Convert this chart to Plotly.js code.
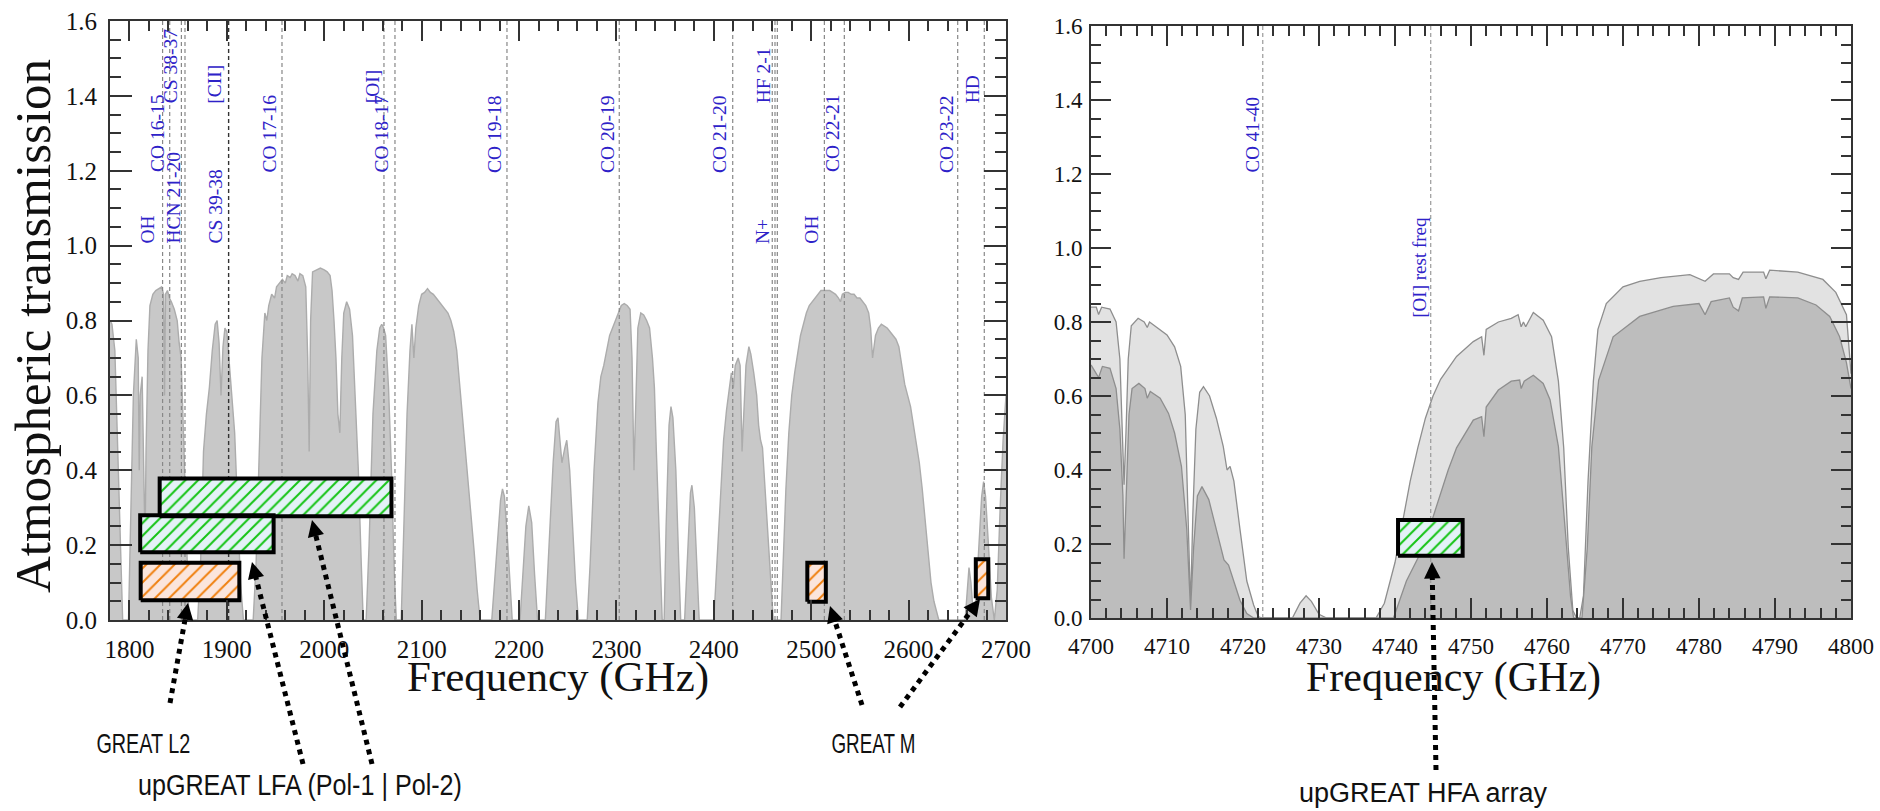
<!DOCTYPE html>
<html><head><meta charset="utf-8">
<script src="https://cdn.plot.ly/plotly-3.0.1.min.js"></script>
<style>html,body{margin:0;padding:0;background:#fff;}#chart{width:1880px;height:811px;}</style>
</head><body><div id="chart"></div>
<script>
// ---------- Left panel: atmospheric transmission 1780-2700 GHz ----------
const freqL = [1780,1782,1785,1788,1791,1793,1799,1801,1804,1807,1809,1810,1811,1813,1815,1816,1817,1819,1821,1824,1827,1830,1833,1835,1836,1837,1839,1841,1843,1846,1849,1851,1853,1856,1858,1860,1861,
1870,1873,1876,1879,1882,1885,1888,1890,1892,1894,1896,1898,1900,1902,1905,1908,1911,1914,1917,
1927,1930,1933,1936,1939,1941,1943,1946,1949,1951,1954,1957,1960,1962,1965,1967,1970,1973,1975,1978,1981,1983,1984.5,1986,1988,1992,1996,2000,2003,2006,2008,2010,2012,2014,2016,2018,2020,2023,2026,2029,2032,2035,2038,2040,
2043,2046,2050,2054,2057,2059,2061,2063,2066,2069,2072,2074,
2079,2082,2085,2088,2090,2092,2094,2097,2100,2103,2106,2109,2112,2115,2118,2121,2124,2127,2130,2133,2136,2139,2142,2145,2148,2151,2154,2157,2160,
2172,2175,2178,2181,2183,2185,2188,2191,2193,
2201,2204,2207,2210,2213,2216,2219,
2227,2231,2235,2238,2240,2242,2244,2247,2249,2252,2255,2258,2261,
2270,2273,2277,2281,2284,2287,2290,2293,2296,2299,2302,2305,2308,2311,2314,2316,2318,2320,2322,2325,2328,2331,2334,2337,2339,2341,2344,2347,
2349,2351,2354,2356,2358,2361,2364,2366,
2370,2373,2376,2377.5,2380,2383,2385,
2400,2403,2407,2410,2413,2416,2418,2420,2422,2425,2427,2429,2431,2433,2436,2438,2441,2444,2446,2448,2450,2452,2455,2458,2461,
2469,2471,2474,2477,2480,2483,2486,2489,2492,2495,2498,2501,2504,2507,2510,2513,2516,2519,2522,2525,2528,2530,2532,2535,2538,2541,2544,2547,2550,2553,2556,2559,2561,2563,2566,2569,2572,2575,2578,2581,2584,2587,2590,2593,2596,2599,2602,2605,2608,2611,2614,2617,2620,2623,2626,2629,2631,
2658,2660,2662,2664,2666,2669,2672,2675,2677,2679,2682,2685,2688,2691,2694,2697,2700];
const transL = [0.80,0.79,0.72,0.45,0.15,0.0,0.0,0.25,0.60,0.75,0.70,0.40,0.60,0.65,0.40,0.20,0.45,0.72,0.84,0.87,0.88,0.885,0.89,0.87,0.60,0.87,0.88,0.86,0.85,0.83,0.80,0.74,0.70,0.45,0.25,0.08,0.0,
0.0,0.15,0.45,0.55,0.62,0.72,0.79,0.80,0.74,0.60,0.73,0.78,0.77,0.70,0.62,0.50,0.30,0.10,0.0,
0.0,0.15,0.45,0.70,0.82,0.80,0.84,0.87,0.86,0.89,0.90,0.91,0.90,0.92,0.915,0.925,0.92,0.905,0.925,0.92,0.89,0.70,0.45,0.80,0.93,0.935,0.94,0.935,0.93,0.92,0.88,0.80,0.70,0.55,0.50,0.70,0.82,0.85,0.83,0.76,0.60,0.40,0.15,0.0,
0.0,0.20,0.55,0.72,0.78,0.79,0.78,0.76,0.62,0.40,0.12,0.0,
0.0,0.25,0.55,0.72,0.79,0.70,0.78,0.84,0.87,0.875,0.885,0.875,0.87,0.86,0.85,0.84,0.83,0.82,0.80,0.77,0.72,0.63,0.55,0.46,0.38,0.28,0.18,0.08,0.0,
0.0,0.10,0.22,0.32,0.35,0.33,0.22,0.08,0.0,
0.0,0.12,0.25,0.305,0.26,0.12,0.0,
0.0,0.20,0.42,0.53,0.54,0.48,0.42,0.46,0.48,0.40,0.25,0.10,0.0,
0.0,0.15,0.40,0.58,0.65,0.68,0.72,0.76,0.78,0.80,0.82,0.84,0.845,0.84,0.83,0.70,0.40,0.60,0.78,0.82,0.815,0.80,0.78,0.70,0.62,0.45,0.20,0.0,
0.0,0.25,0.52,0.57,0.54,0.40,0.15,0.0,
0.0,0.18,0.34,0.36,0.30,0.12,0.0,
0.0,0.15,0.35,0.48,0.56,0.62,0.66,0.62,0.68,0.70,0.68,0.45,0.55,0.68,0.73,0.71,0.66,0.60,0.52,0.48,0.46,0.38,0.25,0.12,0.0,
0.0,0.15,0.35,0.50,0.60,0.66,0.71,0.76,0.79,0.82,0.84,0.85,0.86,0.87,0.88,0.88,0.88,0.88,0.875,0.87,0.86,0.85,0.87,0.875,0.875,0.87,0.87,0.86,0.86,0.85,0.84,0.82,0.78,0.70,0.76,0.78,0.79,0.785,0.78,0.77,0.76,0.75,0.73,0.68,0.63,0.60,0.57,0.52,0.47,0.42,0.35,0.27,0.18,0.10,0.05,0.02,0.0,
0.0,0.08,0.14,0.10,0.03,0.05,0.20,0.33,0.37,0.33,0.20,0.06,0.0,0.08,0.30,0.48,0.60];

// spectral lines (GHz) and their labels
const linesL = [1834,1841.3,1853.3,1857,1956.6,2061.3,2072.6,2187.6,2302.9,2419.4,2460,2462.8,2465.2,2513.5,2534,2650.4,2677.7];
const linesCII = [1901.8];
const labelsL = ['OH','CO 16-15','HCN 21-20','CS 38-37','[CII]','CS 39-38','CO 17-16','[OI]','CO 18-17','CO 19-18','CO 20-19','CO 21-20','HF 2-1','N+','OH','CO 22-21','CO 23-22','HD'];
const labelFreqL = [1819,1829.3,1845.7,1841.6,1887.8,1888.8,1943.3,2049,2058.3,2175.3,2291.3,2406.3,2450.5,2449.4,2500.8,2522.4,2639.4,2665.1];
const labelBaseL = [1.0,1.19,1.0,1.375,1.375,1.0,1.19,1.375,1.19,1.19,1.19,1.19,1.375,1.0,1.0,1.19,1.19,1.375];

// receiver bands (GHz, transmission-axis extent of the boxes)
const lfaStart = [1831,1811], lfaEnd = [2069,1948], lfaLow = [0.277,0.181], lfaHigh = [0.378,0.28];
const greatStart = [1811.5,2496,2669], greatEnd = [1912.8,2515,2681.8], greatLow = [0.053,0.049,0.058], greatHigh = [0.153,0.153,0.162];

// ---------- Right panel: 4700-4800 GHz ----------
const freqHi = [4700,4700.7,4701.0,4701.4,4702.5,4703.3,4703.8,4704.1,4704.35,4704.6,4704.9,4705.3,4706.2,4707.0,4707.4,4707.7,4709.0,4710.0,4711.0,4711.8,4712.4,4712.8,4713.1,4713.4,4713.8,4714.3,4714.8,4715.6,4716.5,4717.4,4717.9,4718.3,4718.8,4719.6,4720.5,4721.4,4722.0,4722.5,
4726.5,4727.5,4728.3,4729.0,4730.0,4731.0,
4737.5,4738.6,4740,4741,4742,4743,4744,4745,4746,4748.1,4750.3,4751.4,4751.7,4752.0,4753.6,4755.3,4756.2,4756.6,4756.9,4757.2,4758.2,4759.5,4760.6,4761.5,4762.2,4762.8,4763.4,4763.9,
4764.3,4764.8,4765.4,4766.1,4766.7,4767.8,4768.7,4770,4772.2,4775,4778.8,4780.8,4781.9,4784.0,4784.5,4785.2,4785.8,4788.5,4788.8,4789.3,4793,4796.3,4798,4799.4,4800];
const transHi = [0.84,0.84,0.82,0.84,0.835,0.80,0.70,0.50,0.36,0.50,0.70,0.79,0.81,0.80,0.785,0.80,0.78,0.765,0.733,0.68,0.55,0.28,0.03,0.28,0.51,0.61,0.625,0.60,0.54,0.464,0.40,0.41,0.37,0.24,0.10,0.035,0.004,0.0,
0.0,0.04,0.06,0.045,0.01,0.0,
0.0,0.04,0.15,0.26,0.37,0.46,0.54,0.60,0.645,0.707,0.747,0.76,0.71,0.78,0.80,0.81,0.82,0.787,0.80,0.787,0.826,0.805,0.76,0.64,0.46,0.19,0.02,0.0,
0.0,0.06,0.37,0.64,0.78,0.85,0.868,0.895,0.91,0.92,0.928,0.91,0.93,0.93,0.92,0.915,0.935,0.935,0.917,0.94,0.935,0.915,0.88,0.82,0.66];
const freqLo = [4700,4701.0,4701.5,4702.5,4703.3,4703.8,4704.2,4704.35,4704.7,4705.0,4705.4,4706.3,4707.1,4707.4,4707.8,4709.1,4710.2,4711.0,4711.9,4712.6,4713.1,4713.5,4714.0,4714.6,4715.5,4716.6,4717.5,4718.1,4718.8,4719.6,4720.5,4721.4,
4739.8,4741.5,4743.7,4744.8,4745.9,4747,4748.1,4750.3,4751.4,4751.7,4752.0,4753.6,4755.3,4756.4,4756.6,4757.0,4758.2,4759.5,4760.4,4761.5,4762.4,4763.1,4763.5,
4764.6,4765.3,4765.9,4766.8,4768.7,4772.2,4776.6,4780,4780.8,4781.6,4784,4784.5,4785.2,4785.7,4788.5,4788.8,4789.3,4793,4795.4,4797.2,4798.5,4799.4,4800];
const transLo = [0.684,0.65,0.68,0.675,0.62,0.51,0.33,0.16,0.37,0.55,0.62,0.634,0.62,0.594,0.612,0.594,0.553,0.50,0.41,0.24,0.022,0.19,0.33,0.355,0.32,0.23,0.157,0.143,0.10,0.048,0.012,0.0,
0.0,0.10,0.19,0.26,0.33,0.40,0.46,0.535,0.544,0.49,0.57,0.616,0.64,0.643,0.62,0.64,0.656,0.634,0.59,0.463,0.238,0.058,0.0,
0.0,0.19,0.463,0.643,0.76,0.815,0.842,0.85,0.82,0.855,0.865,0.84,0.83,0.865,0.868,0.837,0.868,0.865,0.846,0.815,0.76,0.69,0.62];
const linesR = [4722.6,4744.7];
const labelsR = ['CO 41-40','[OI] rest freq'];
const labelFreqR = [4721.3,4743.3];
const labelBaseR = [1.2,0.805];
const hfaStart = [4740.4], hfaEnd = [4748.9], hfaLow = [0.168], hfaHigh = [0.265];

// ---------- helpers (layout only) ----------
const W = 1880, H = 811;
const px = v => v / W;
const py = v => 1 - v / H;
const vlines = (arr, y0, y1) => ({x: arr.flatMap(f => [f, f, null]), y: arr.flatMap(() => [y0, y1, null])});
const boxTrace = (start, end, low, high, xa, ya, bg, fg, size, sol) => ({
  type: 'scatter', mode: 'lines', xaxis: xa, yaxis: ya, fill: 'toself', fillcolor: bg,
  x: start.flatMap((s, i) => [s, end[i], end[i], s, s, null]),
  y: low.flatMap((l, i) => [l, l, high[i], high[i], l, null]),
  line: {color: '#000', width: 4},
  fillpattern: {shape: '/', fgcolor: fg, bgcolor: bg, size: size, solidity: sol},
  hoverinfo: 'skip', showlegend: false
});

const dashL = vlines(linesL, 0, 1.6), dashC = vlines(linesCII, 0, 1.6), dashR = vlines(linesR, 0, 1.6);
const traces = [
  {x: freqL, y: transL, xaxis: 'x', yaxis: 'y', mode: 'lines', fill: 'tozeroy', fillcolor: '#c8c8c8', line: {color: '#acacac', width: 1.4}, hoverinfo: 'skip'},
  {x: dashL.x, y: dashL.y, xaxis: 'x', yaxis: 'y', mode: 'lines', line: {color: '#888', width: 1.2, dash: '4px,3px'}, hoverinfo: 'skip'},
  {x: dashC.x, y: dashC.y, xaxis: 'x', yaxis: 'y', mode: 'lines', line: {color: '#333', width: 1.4, dash: '4px,3px'}, hoverinfo: 'skip'},
  {x: freqHi, y: transHi, xaxis: 'x2', yaxis: 'y2', mode: 'lines', fill: 'tozeroy', fillcolor: '#e2e2e2', line: {color: '#8e8e8e', width: 1.3}, hoverinfo: 'skip'},
  {x: freqLo, y: transLo, xaxis: 'x2', yaxis: 'y2', mode: 'lines', fill: 'tozeroy', fillcolor: '#bdbdbd', line: {color: '#8e8e8e', width: 1.3}, hoverinfo: 'skip'},
  {x: dashR.x, y: dashR.y, xaxis: 'x2', yaxis: 'y2', mode: 'lines', line: {color: '#9a9a9a', width: 1.2, dash: '4px,3px'}, hoverinfo: 'skip'},
  boxTrace(lfaStart, lfaEnd, lfaLow, lfaHigh, 'x', 'y', '#e4f2f7', '#16c416', 9, 0.22),
  boxTrace(greatStart, greatEnd, greatLow, greatHigh, 'x', 'y', '#fbe5dc', '#f0800f', 10, 0.2),
  boxTrace(hfaStart, hfaEnd, hfaLow, hfaHigh, 'x2', 'y2', '#e4f2f7', '#16c416', 9, 0.22)
];

const serif = 'Liberation Serif, Times New Roman, serif';
const axisBase = {
  showline: true, linecolor: '#333', linewidth: 2, mirror: 'ticks', ticks: 'inside', tickcolor: '#333', tickwidth: 2,
  showgrid: false, zeroline: false, fixedrange: true
};
const xL = Object.assign({}, axisBase, {domain: [px(110), px(1006)], range: [1780, 2700], anchor: 'y', tick0: 1800, dtick: 100, ticklen: 20, tickformat: 'd',
  minor: {ticks: 'inside', ticklen: 10, tickwidth: 2, tickcolor: '#333', tick0: 1780, dtick: 20}, tickfont: {family: serif, size: 25, color: '#111'}, ticklabelstandoff: 6});
const yL = Object.assign({}, axisBase, {domain: [py(620), py(21)], range: [0, 1.6], anchor: 'x', dtick: 0.2, tick0: 0, ticklen: 22, tickformat: '.1f',
  minor: {ticks: 'inside', ticklen: 11, tickwidth: 2, tickcolor: '#333', tick0: 0, dtick: 0.05}, tickfont: {family: serif, size: 25, color: '#111'}, ticklabelstandoff: 6});
const xR = Object.assign({}, axisBase, {domain: [px(1091), px(1851)], range: [4700, 4800], anchor: 'y2', tick0: 4700, dtick: 10, ticklen: 20, tickformat: 'd',
  minor: {ticks: 'inside', ticklen: 10, tickwidth: 2, tickcolor: '#333', tick0: 4700, dtick: 2}, tickfont: {family: serif, size: 23, color: '#111'}, ticklabelstandoff: 6});
const yR = Object.assign({}, axisBase, {domain: [py(618), py(26)], range: [0, 1.6], anchor: 'x2', dtick: 0.2, tick0: 0, ticklen: 20, tickformat: '.1f',
  minor: {ticks: 'inside', ticklen: 10, tickwidth: 2, tickcolor: '#333', tick0: 0, dtick: 0.05}, tickfont: {family: serif, size: 23, color: '#111'}, ticklabelstandoff: 2});

const blue = '#2e22c8';
const annotations = [];
labelsL.forEach((t, i) => annotations.push({xref: 'x', yref: 'y', x: labelFreqL[i], y: labelBaseL[i], text: t, showarrow: false, textangle: -90,
  xanchor: 'center', yanchor: 'bottom', font: {family: serif, size: 19.5, color: blue}}));
labelsR.forEach((t, i) => annotations.push({xref: 'x2', yref: 'y2', x: labelFreqR[i], y: labelBaseR[i], text: t, showarrow: false, textangle: -90,
  xanchor: 'center', yanchor: 'bottom', font: {family: serif, size: 19, color: blue}}));
// axis titles
annotations.push({xref: 'paper', yref: 'paper', x: px(33), y: py(326), text: 'Atmospheric transmission', textangle: -90, showarrow: false,
  xanchor: 'center', yanchor: 'middle', font: {family: serif, size: 51, color: '#111'}});
annotations.push({xref: 'paper', yref: 'paper', x: px(558), y: py(677), text: 'Frequency (GHz)', showarrow: false,
  xanchor: 'center', yanchor: 'middle', font: {family: serif, size: 43, color: '#111'}});
annotations.push({xref: 'paper', yref: 'paper', x: px(1453), y: py(677), text: 'Frequency (GHz)', showarrow: false,
  xanchor: 'center', yanchor: 'middle', font: {family: serif, size: 42, color: '#111'}});
// instrument labels: [text, centreX, centreY, font, size, targetWidth]
const sans = 'Liberation Sans, Arial, sans-serif';
const instLabels = [
  ['GREAT L2', 143, 743, sans, 28, 94],
  ['GREAT M', 873, 743, sans, 28, 84],
  ['upGREAT LFA (Pol-1 | Pol-2)', 300, 785, sans, 29, 324],
  ['upGREAT HFA array', 1423, 793, sans, 27, 248]
];
instLabels.forEach(l => annotations.push({xref: 'paper', yref: 'paper', x: px(l[1]), y: py(l[2]), text: l[0], showarrow: false,
  xanchor: 'center', yanchor: 'middle', font: {family: l[3], size: l[4], color: '#111'}}));

// dotted pointer arrows: [tailX, tailY, tipX, tipY] in page pixels
const pointers = [[170,703,188,603],[303,764,252,562],[372,764,312,520],[862,705,830,606],[900,707,980,599],[1436,770,1432,562]];
const shapes = [];
pointers.forEach(p => {
  const dx = p[0] - p[2], dy = p[1] - p[3], len = Math.hypot(dx, dy);
  const sx = p[2] + dx / len * 10, sy = p[3] + dy / len * 10;
  shapes.push({type: 'line', xref: 'paper', yref: 'paper', x0: px(p[0]), y0: py(p[1]), x1: px(sx), y1: py(sy),
    line: {color: '#000', width: 5, dash: 'dot'}});
  annotations.push({xref: 'paper', yref: 'paper', x: px(p[2]), y: py(p[3]), ax: dx / len * 18, ay: dy / len * 18, axref: 'pixel', ayref: 'pixel',
    text: '', showarrow: true, arrowhead: 2, arrowsize: 1.1, arrowwidth: 3, arrowcolor: '#000'});
});
// crop edge of the right-hand figure
shapes.push({type: 'rect', xref: 'paper', yref: 'paper', x0: px(1032), x1: px(1052), y0: py(700), y1: py(0), fillcolor: '#fff', line: {width: 0}, layer: 'above'});

const layout = {
  width: W, height: H, margin: {l: 0, r: 0, t: 0, b: 0}, paper_bgcolor: '#fff', plot_bgcolor: '#fff',
  showlegend: false, hovermode: false,
  xaxis: xL, yaxis: yL, xaxis2: xR, yaxis2: yR,
  annotations: annotations, shapes: shapes
};
Plotly.newPlot('chart', traces, layout, {displayModeBar: false, staticPlot: true}).then(() => {
  const widths = {};
  instLabels.forEach(l => { widths[l[0]] = l[5]; });
  document.querySelectorAll('text.annotation-text').forEach(t => {
    const w = widths[t.textContent];
    if (w) { t.setAttribute('textLength', w); t.setAttribute('lengthAdjust', 'spacingAndGlyphs'); }
  });
});
</script></body></html>
